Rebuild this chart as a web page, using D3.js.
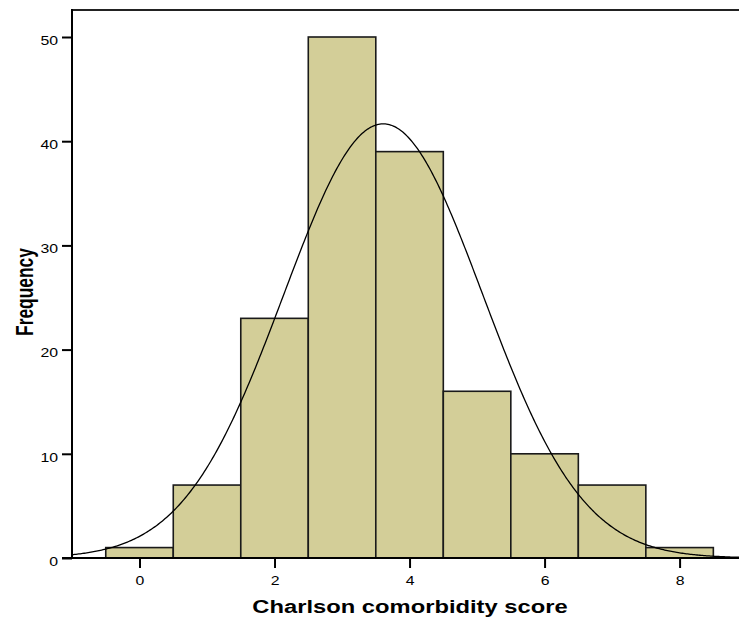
<!DOCTYPE html>
<html><head><meta charset="utf-8">
<script src="https://cdn.jsdelivr.net/npm/d3@7"></script>
<style>body{margin:0;background:#fff}svg{display:block}</style>
</head><body>
<script>
const scores = [0,1,2,3,4,5,6,7,8];
const frequencies = [1,7,23,50,39,16,10,7,1];
const yTicks = [0,10,20,30,40,50];
const xTicks = [0,2,4,6,8];
const xLabel = "Charlson comorbidity score";
const yLabel = "Frequency";

const W=739,H=624, SX=1.32;
const FONT="Arial, 'Liberation Sans', sans-serif";
const svg=d3.select("body").append("svg").attr("width",W).attr("height",H);
const x=d3.scaleLinear().domain([-1.0,8.88]).range([72,739]);
const y=d3.scaleLinear().domain([0,50]).range([558,37]);

// normal curve fitted to histogram data
const N=d3.sum(frequencies);
const mean=d3.sum(scores.map((s,i)=>s*frequencies[i]))/N;
const sd=Math.sqrt(d3.sum(scores.map((s,i)=>frequencies[i]*(s-mean)**2))/(N-1));

svg.selectAll("rect.bar").data(scores).enter().append("rect")
  .attr("x",d=>x(d-0.5)).attr("width",d=>x(d+0.5)-x(d-0.5))
  .attr("y",(d,i)=>y(frequencies[i])).attr("height",(d,i)=>y(0)-y(frequencies[i]))
  .attr("fill","#d3ce98").attr("stroke","#1a1a1a").attr("stroke-width",1.6);

const xs=d3.range(-1.0,8.881,0.02);
const line=d3.line().x(d=>x(d)).y(d=>y(N/(sd*Math.sqrt(2*Math.PI))*Math.exp(-0.5*((d-mean)/sd)**2)));
svg.append("path").datum(xs).attr("d",line).attr("fill","none").attr("stroke","#000").attr("stroke-width",1.3);

// frame
svg.append("line").attr("x1",72).attr("x2",739).attr("y1",10).attr("y2",10).attr("stroke","#222").attr("stroke-width",2);
svg.append("line").attr("x1",72).attr("x2",72).attr("y1",9).attr("y2",558).attr("stroke","#000").attr("stroke-width",2);
svg.append("line").attr("x1",62).attr("x2",739).attr("y1",558).attr("y2",558).attr("stroke","#000").attr("stroke-width",2);

const yAxis=d3.axisLeft(y).tickValues(yTicks).tickSize(10).tickPadding(4).tickFormat(d3.format("d"));
const gy=svg.append("g").attr("transform","translate(72,0)").call(yAxis);
gy.select(".domain").remove();
gy.selectAll("line").attr("stroke","#000").attr("stroke-width",2);
gy.selectAll("text").attr("font-family",FONT).attr("font-size",12).attr("fill","#000")
  .attr("x",-14/SX).attr("dy","0.6em").attr("transform",`scale(${SX},1)`);

const xAxis=d3.axisBottom(x).tickValues(xTicks).tickSize(10).tickPadding(8).tickFormat(d3.format("d"));
const gx=svg.append("g").attr("transform","translate(0,558)").call(xAxis);
gx.select(".domain").remove();
gx.selectAll("line").attr("stroke","#000").attr("stroke-width",2);
gx.selectAll("text").attr("font-family",FONT).attr("font-size",12).attr("fill","#000")
  .attr("transform",`scale(${SX},1)`);

svg.append("g").attr("transform",`translate(410,613) scale(${SX},1)`).append("text").attr("text-anchor","middle")
  .attr("font-family",FONT).attr("font-weight","bold").attr("font-size",18).text(xLabel);
svg.append("text").attr("transform","translate(33,292) rotate(-90) scale(1,1.38)").attr("text-anchor","middle")
  .attr("font-family",FONT).attr("font-weight","bold").attr("font-size",17.4).text(yLabel);
</script>
</body></html>
